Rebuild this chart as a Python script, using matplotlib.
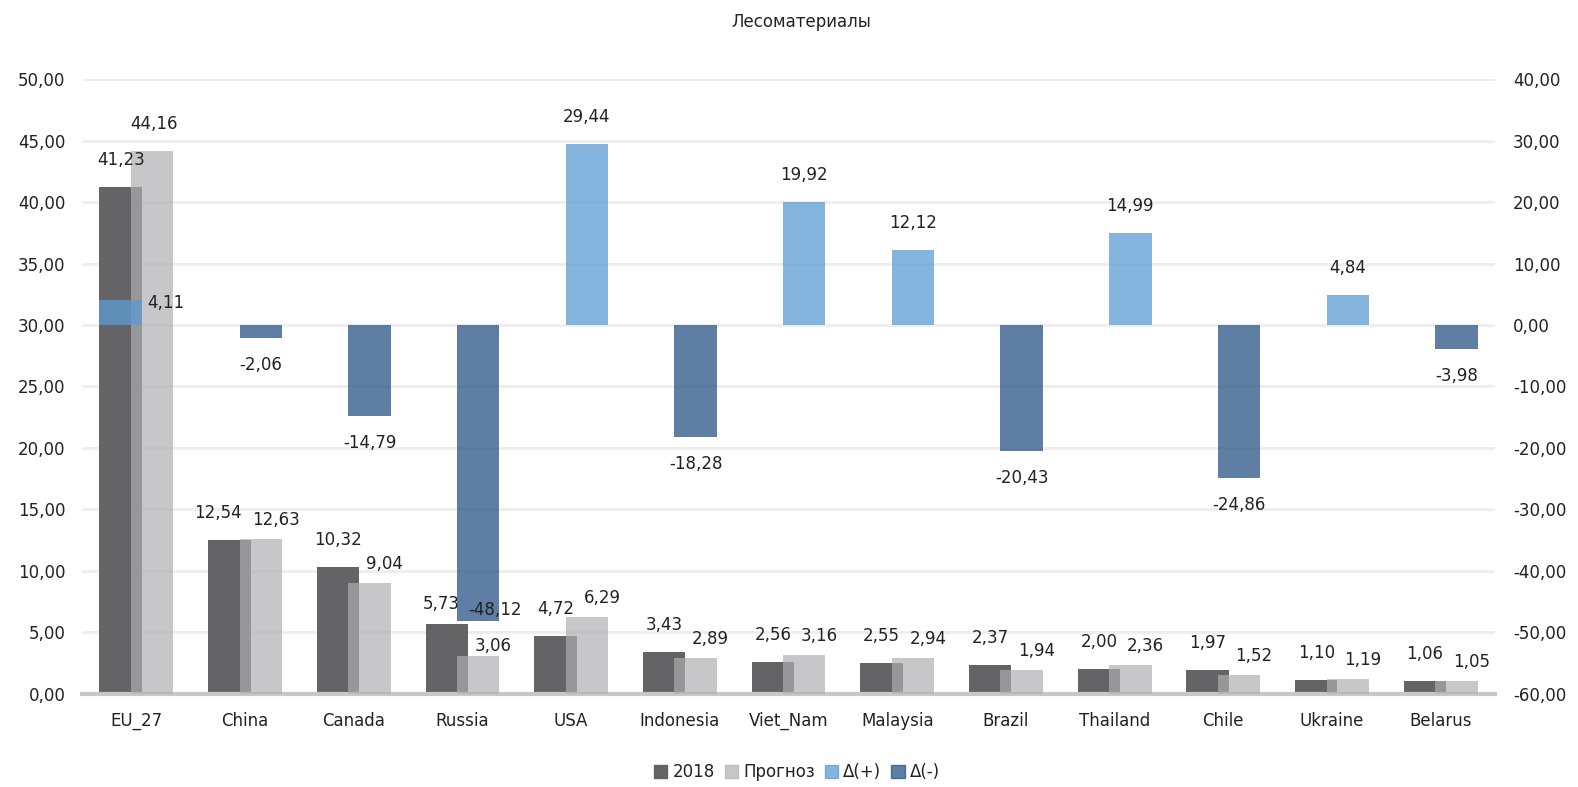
import numpy as np
import matplotlib
matplotlib.use("Agg")
import matplotlib.pyplot as plt
from matplotlib.patches import Patch

plt.rcParams['font.family'] = ['DejaVu Sans']

title = "Лесоматериалы"
cats = ["EU_27", "China", "Canada", "Russia", "USA", "Indonesia", "Viet_Nam",
        "Malaysia", "Brazil", "Thailand", "Chile", "Ukraine", "Belarus"]
v2018 = [41.23, 12.54, 10.32, 5.73, 4.72, 3.43, 2.56, 2.55, 2.37, 2.00, 1.97, 1.10, 1.06]
prognoz = [44.16, 12.63, 9.04, 3.06, 6.29, 2.89, 3.16, 2.94, 1.94, 2.36, 1.52, 1.19, 1.05]
delta = [4.11, -2.06, -14.79, -48.12, 29.44, -18.28, 19.92, 12.12, -20.43, 14.99, -24.86, 4.84, -3.98]
series_names = ["2018", "Прогноз", "Δ(+)", "Δ(-)"]

C2018 = "#646466"
CPRO = "#afafb1"
CPLUS = "#5c9bd3"
CMINUS = "#285484"
TXT = "#222222"
FS = 12

fmt = lambda v: f"{v:.2f}".replace(".", ",")

n = len(cats)
x = np.arange(n)
w = 0.39
off = 0.145

fig = plt.figure(figsize=(15.78, 7.87), dpi=100)
ax = fig.add_axes([0.052, 0.1182, 0.8954, 0.7814])
ax2 = ax.twinx()

ax.bar(x - off, v2018, w, color=C2018, zorder=2)
ax.bar(x + off, prognoz, w, color=CPRO, alpha=0.69, zorder=3)

# EU_27 delta sits over the 2018 bar, the rest over the forecast bar
dx = np.where(x == 0, -off, off)
dcol = [CPLUS if d >= 0 else CMINUS for d in delta]
ax2.bar(x + dx, delta, w, color=dcol, alpha=0.75, zorder=3)

ax.set_xlim(-0.5, n - 0.5)
ax.set_ylim(0, 50)
ax2.set_ylim(-60, 40)
ax.set_yticks(np.arange(0, 51, 5))
ax2.set_yticks(np.arange(-60, 41, 10))
ax.set_yticklabels([fmt(v) for v in np.arange(0, 51, 5)])
ax2.set_yticklabels([fmt(v) for v in np.arange(-60, 41, 10)])
ax.set_xticks(x)
ax.set_xticklabels(cats)

ax.grid(axis='y', color="#eeeeee", lw=2, zorder=0)
ax.set_axisbelow(True)
for a in (ax, ax2):
    for s in a.spines.values():
        s.set_visible(False)
    a.tick_params(length=0, labelsize=FS, colors=TXT)
ax.spines['bottom'].set_visible(True)
ax.spines['bottom'].set_color("#c8c8c8")
ax.spines['bottom'].set_linewidth(3)
ax.tick_params(axis='x', pad=13)
ax.tick_params(axis='y', pad=12)
ax2.tick_params(axis='y', pad=13)

# label nudges (pixels) where the labels were moved apart by hand
nudge18 = {1: (-11, 27), 3: (-5, 20)}
nudgepr = {0: (2, 27), 3: (15, 10)}

for i in range(n):
    ax.annotate(fmt(v2018[i]), (x[i] - off, v2018[i]), xytext=nudge18.get(i, (0, 27)),
                textcoords='offset pixels', ha='center', va='center', fontsize=FS, color=TXT, zorder=6)
    ax.annotate(fmt(prognoz[i]), (x[i] + off, prognoz[i]), xytext=nudgepr.get(i, (15, 19)),
                textcoords='offset pixels', ha='center', va='center', fontsize=FS, color=TXT, zorder=6)
    d = delta[i]
    if i == 0:
        ax2.annotate(fmt(d), (x[i] + dx[i] + w / 2, d), xytext=(5, -3),
                     textcoords='offset pixels', ha='left', va='center', fontsize=FS, color=TXT)
    elif d < -40:
        ax2.annotate(fmt(d), (x[i] + dx[i], d), xytext=(17, 11),
                     textcoords='offset pixels', ha='center', va='center', fontsize=FS, color=TXT)
    else:
        sgn = 1 if d >= 0 else -1
        ax2.annotate(fmt(d), (x[i] + dx[i], d), xytext=(0, 27 * sgn),
                     textcoords='offset pixels', ha='center', va='center', fontsize=FS, color=TXT)

fig.text(0.508, 0.972, title, ha='center', va='center', fontsize=FS, color=TXT)

handles = [Patch(color=C2018), Patch(color=CPRO, alpha=0.69),
           Patch(color=CPLUS, alpha=0.75), Patch(color=CMINUS, alpha=0.75)]
fig.legend(handles, series_names, loc='lower center', bbox_to_anchor=(0.505, -0.012), ncol=4,
           frameon=False, fontsize=FS, handlelength=0.8, handleheight=0.8,
           handletextpad=0.3, columnspacing=0.6, labelcolor=TXT)

fig.savefig("out.png", dpi=100)
